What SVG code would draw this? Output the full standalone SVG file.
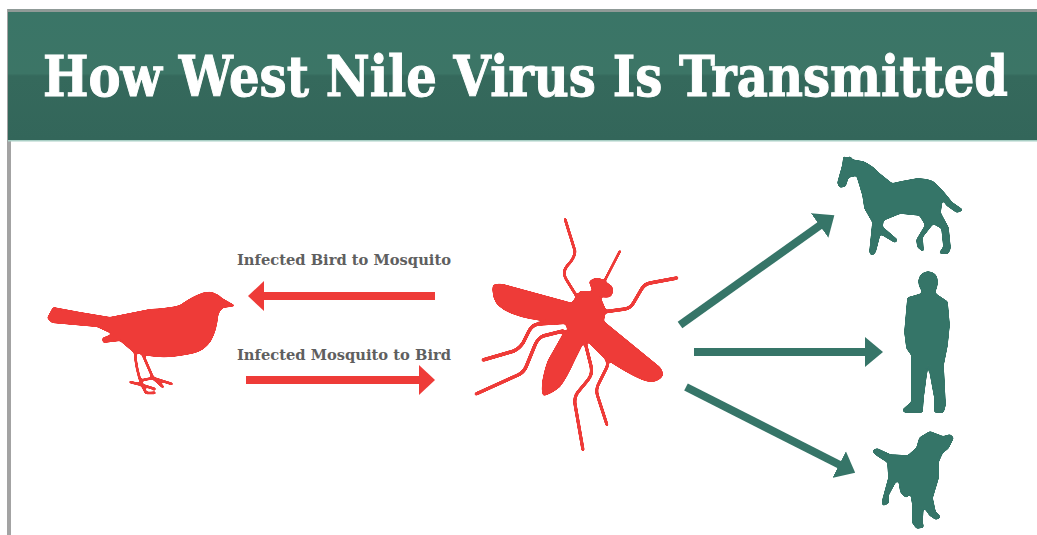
<svg xmlns="http://www.w3.org/2000/svg" width="1037" height="535" viewBox="0 0 1037 535">
<style>
.red{fill:#ee3b38}
.green{fill:#367568;stroke:#367568;stroke-width:1.6px;stroke-linejoin:round}
.leg{fill:none;stroke:#ee3b38;stroke-width:3;stroke-linecap:round;stroke-linejoin:round}
.birdleg{fill:none;stroke:#ee3b38;stroke-width:2.6;stroke-linecap:round;stroke-linejoin:round}
.lab{font-family:"DejaVu Serif","Liberation Serif",serif;font-weight:700;font-size:14.5px;fill:#5f5f5f}
.ttl{font-family:"DejaVu Serif","Liberation Serif",serif;font-weight:700;font-size:47.5px;fill:#fff;stroke:#fff;stroke-width:.9px}
.ra{stroke:#ee3b38;stroke-width:8;fill:none}
.ga{stroke:#367568;stroke-width:8;fill:none}
.icon{filter:url(#smooth)}
</style>
<defs>
<filter id="smooth" x="-10%" y="-10%" width="120%" height="120%">
<feGaussianBlur stdDeviation="1.3"/>
<feComponentTransfer><feFuncA type="linear" slope="7" intercept="-2.6"/></feComponentTransfer>
<feGaussianBlur stdDeviation="0.45"/>
</filter>
<linearGradient id="hdr" x1="0" y1="0" x2="0" y2="1">
<stop offset="0" stop-color="#3a7567"/><stop offset=".48" stop-color="#3c7566"/><stop offset=".5" stop-color="#35695c"/><stop offset="1" stop-color="#33665a"/>
</linearGradient>
<marker id="rh" markerUnits="userSpaceOnUse" viewBox="0 0 16 30" markerWidth="16" markerHeight="30" refX="1" refY="15" orient="auto"><path d="M0,0L16,15L0,30Z" fill="#ee3b38"/></marker>
<marker id="gh" markerUnits="userSpaceOnUse" viewBox="0 0 18 30" markerWidth="18" markerHeight="30" refX="1" refY="15" orient="auto"><path d="M0,0L18,15L0,30Z" fill="#367568"/></marker>
</defs>
<rect width="1037" height="535" fill="#fff"/>
<rect x="7" y="9" width="4" height="526" fill="#a3a3a3"/>
<g id="header">
<rect x="8" y="9" width="1029" height="3" fill="#8f9a97"/>
<rect x="8" y="12" width="1029" height="128" fill="url(#hdr)"/>
<rect x="8" y="140" width="1029" height="1.5" fill="#a9cfc5"/>
<text class="ttl" transform="translate(43,96) scale(1,1.17)" x="0" y="0" textLength="965" lengthAdjust="spacingAndGlyphs">How West Nile Virus Is Transmitted</text>
</g>
<g id="bird" class="icon">
<path class="red" d="M47,318L53,307L80,312L110,317L150,309Q170,308 180,305Q190,298 197,295Q205,291 212,292Q218,294 222,298L236,306L223,308Q219,311 218,317Q217,330 211,341Q205,350 195,353Q175,358 158,357Q143,356 133,352L120,341L103,343L102,338L112,334L97,327L52,323Z"/>
<path class="birdleg" d="M135,352Q136,370 142,385M130,382L142,385L155,389M142,385L146,393L155,393M143,355L153,378M143,380L153,378L172,384M153,378L163,387"/>
</g>
<g id="mosquito" class="icon">
<path class="red" d="M493,285Q497,283 503,284L580,305L585,327L530,319Q503,313 496,303Q491,294 493,285Z"/>
<path class="red" d="M600,318L660,367Q665,374 662,377Q658,382 650,382Q637,380 607,360L585,335Z"/>
<path class="red" d="M565,330L585,340L575,360Q567,378 560,387Q550,395 543,396Q541,390 542,383Q544,370 548,360Z"/>
<path class="red" d="M570,305L580,291L598,291L606,310L603,326L588,343L571,340L565,323Z"/>
<path class="red" d="M589,282Q594,276 602,279L612,286Q615,293 610,297Q600,299 593,293Z"/>
<path class="leg" style="stroke-width:2.6" d="M605,280L620,251"/>
<path class="leg" style="stroke-width:2.8" d="M579,300L566,279Q562,272 567,266Q575,258 575,251L565,219"/>
<path class="leg" style="stroke-width:3.4" d="M603,312L625,309Q631,308 634,302L641,290Q644,284 650,283L677,278"/>
<path class="leg" style="stroke-width:3.4" d="M570,322L538,324Q532,325 529,331L523,343Q520,348 514,351L483,360"/>
<path class="leg" style="stroke-width:3.4" d="M563,331L543,336Q538,338 535,345L526,367Q524,372 518,375L476,394"/>
<path class="leg" style="stroke-width:3.2" d="M585,342L591,366Q593,374 588,380L578,392Q574,397 575,404L583,450"/>
<path class="leg" style="stroke-width:3" d="M590,342L605,357Q609,362 607,367L599,383Q596,388 597,394L607,425"/>
</g>
<g id="horse" class="icon">
<path class="green" d="M838,183L843,165L844,157L847,159L850,157L852,160L863,162Q872,166 877,172L892,184Q905,181 917,179Q927,179 933,182L943,192L952,203L962,210L957,212L947,205L942,198L940,213L948,228L950,248L948,253L940,253L944,247L942,228L933,223L922,237L923,251L918,247L917,240L926,225L920,215L900,213L883,220L882,227L897,240L895,242L880,233L875,252L872,255L870,252L873,222L865,208L863,195L857,175L848,177L845,186L840,187Z"/>
</g>
<g id="person" class="icon">
<path class="green" d="M928,272Q937,273 937,281Q937,287 935,290L935,294L947,302L949,325L947,345L943,365L945,405L943,412L935,412L935,398L928,360L923,398L922,412L905,412L903,410L912,402L912,355L907,348L905,332L908,298L922,294L922,290Q919,286 919,281Q920,273 928,272Z"/>
</g>
<g id="dog" class="icon">
<path class="green" d="M873,451L877,449L890,455L908,456L917,448L920,438L930,432L943,437L950,435L953,438L948,448L942,453L938,462L938,478L932,498L935,512L940,517L936,519L930,515L923,505L922,522L923,527L917,528L913,523L913,505L911,493L906,497L901,492L899,480L895,482L888,495L888,503L883,505L883,500L889,478L888,462L877,455Z"/>
</g>
<g id="connectors">
<line class="ra" x1="435" y1="296" x2="263" y2="296" marker-end="url(#rh)"/>
<line class="ra" x1="246" y1="380" x2="420" y2="380" marker-end="url(#rh)"/>
<line class="ga" x1="680" y1="325" x2="820.5" y2="225" marker-end="url(#gh)"/>
<line class="ga" x1="694" y1="352" x2="866" y2="352" marker-end="url(#gh)"/>
<line class="ga" x1="686" y1="387" x2="840" y2="465" marker-end="url(#gh)"/>
</g>
<g id="labels">
<text class="lab" x="237" y="265" textLength="214" lengthAdjust="spacingAndGlyphs">Infected Bird to Mosquito</text>
<text class="lab" x="237" y="360" textLength="214" lengthAdjust="spacingAndGlyphs">Infected Mosquito to Bird</text>
</g>
</svg>
